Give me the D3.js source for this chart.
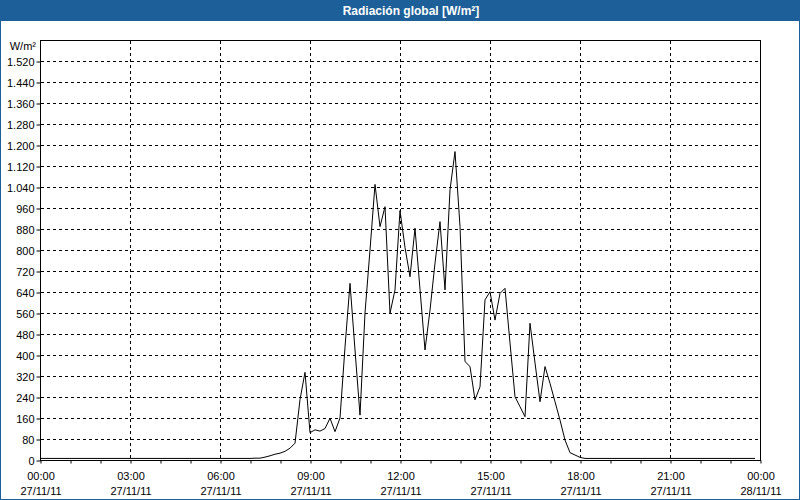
<!DOCTYPE html>
<html>
<head>
<meta charset="utf-8">
<script src="https://cdn.jsdelivr.net/npm/d3@7"></script>
<style>
  body { margin: 0; background: #fff; }
  svg { display: block; font-family: "Liberation Sans", Arial, sans-serif; }
  .axis text { font-size: 11px; fill: #000; }
  .axis path, .axis line { stroke: #000; }
  .grid line { stroke: #000; stroke-dasharray: 3,3; shape-rendering: crispEdges; }
</style>
</head>
<body>
<svg id="chart" width="800" height="500"></svg>
<script>
(function() {
    // 10-minute readings, 27/11/11
    const times = ["00:00", "07:00", "07:10", "07:20", "07:30", "07:40", "07:50",
        "08:00", "08:10", "08:20", "08:30", "08:40", "08:50",
        "09:00", "09:10", "09:20", "09:30", "09:40", "09:50",
        "10:00", "10:10", "10:20", "10:30", "10:40", "10:50",
        "11:00", "11:10", "11:20", "11:30", "11:40", "11:50",
        "12:00", "12:10", "12:20", "12:30", "12:40", "12:50",
        "13:00", "13:10", "13:20", "13:30", "13:40", "13:50",
        "14:00", "14:10", "14:20", "14:30", "14:40", "14:50",
        "15:00", "15:10", "15:20", "15:30", "15:40", "15:50",
        "16:00", "16:10", "16:20", "16:30", "16:40", "16:50",
        "17:00", "17:10", "17:20", "17:30", "17:40", "17:50",
        "18:00", "18:10", "23:50"];
    const values = [6, 6, 7, 7, 11, 16, 22,
        26, 33, 45, 64, 230, 334,
        104, 115, 110, 120, 159, 108,
        160, 430, 673, 419, 171, 560,
        800, 1050, 889, 965, 559, 648,
        950, 810, 698, 883, 650, 419,
        571, 750, 908, 648, 1029, 1175,
        890, 375, 356, 229, 279, 610,
        641, 533, 635, 654, 446, 241,
        203, 165, 521, 370, 222, 356,
        292, 222, 152, 76, 28, 19,
        10, 6, 6];
    const yTicks = d3.range(0, 1521, 80);
    const title = "Radiación global [W/m²]";
    const unit = "W/m²";

    const width = 800, height = 500;
    const left = 40, right = 760, top = 40, bottom = 460;
    const blue = "#1d5f98";

    const parse = d3.timeParse("%Y-%m-%d %H:%M");
    const data = times.map((t, i) => ({ t: parse("2011-11-27 " + t), v: values[i] }));

    const svg = d3.select("#chart");

    // title bar and outer frame
    svg.append("rect").attr("x", 0).attr("y", 0).attr("width", width).attr("height", 21).attr("fill", blue);
    svg.append("rect").attr("x", 0.5).attr("y", 0.5).attr("width", width - 1).attr("height", height - 1)
        .attr("fill", "none").attr("stroke", blue);
    svg.append("text").attr("x", 411).attr("y", 15).attr("text-anchor", "middle")
        .attr("fill", "#fff").attr("font-weight", "bold").attr("font-size", "12px").text(title);

    const x = d3.scaleTime()
        .domain([parse("2011-11-27 00:00"), parse("2011-11-28 00:00")])
        .range([left, right]);
    const y = d3.scaleLinear().domain([0, 1600]).range([bottom, top]);

    const es = d3.formatLocale({ decimal: ",", thousands: ".", grouping: [3], currency: ["", ""] });
    const fmt = es.format(",d");

    // grid
    svg.append("g").attr("class", "grid")
        .selectAll("line").data(yTicks.filter(d => d > 0)).enter().append("line")
        .attr("x1", left + 1).attr("x2", right)
        .attr("y1", d => Math.round(y(d)) + 0.5).attr("y2", d => Math.round(y(d)) + 0.5);
    const hours3 = d3.timeHour.every(3).range(x.domain()[0], x.domain()[1]).slice(1);
    svg.append("g").attr("class", "grid")
        .selectAll("line").data(hours3).enter().append("line")
        .attr("x1", d => Math.round(x(d)) + 0.5).attr("x2", d => Math.round(x(d)) + 0.5)
        .attr("y1", top + 1).attr("y2", bottom);

    // frame
    svg.append("rect").attr("x", left + 0.5).attr("y", top + 0.5)
        .attr("width", right - left).attr("height", bottom - top)
        .attr("fill", "none").attr("stroke", "#000").attr("shape-rendering", "crispEdges");

    // y axis
    const yAxis = svg.append("g").attr("class", "axis")
        .attr("transform", `translate(${left + 0.5},0.5)`)
        .call(d3.axisLeft(y).tickValues(yTicks).tickFormat(fmt).tickSize(4).tickPadding(2));
    yAxis.select(".domain").remove();
    yAxis.selectAll("text").attr("dy", "0.35em");

    svg.append("text").attr("class", "axis").attr("x", 36).attr("y", 50)
        .attr("text-anchor", "end").attr("font-size", "11px").text(unit);

    // x axis: minor hourly ticks, labelled every 3 hours
    const xMinor = svg.append("g").attr("class", "axis")
        .attr("transform", `translate(0.5,${bottom + 0.5})`)
        .call(d3.axisBottom(x).ticks(d3.timeHour.every(1)).tickSize(3).tickFormat(""));
    xMinor.select(".domain").remove();

    const hourFmt = d3.timeFormat("%H:%M"), dateFmt = d3.timeFormat("%d/%m/%y");
    const xAxis = svg.append("g").attr("class", "axis")
        .attr("transform", `translate(0.5,${bottom + 0.5})`)
        .call(d3.axisBottom(x).ticks(d3.timeHour.every(3)).tickSize(0).tickFormat(""));
    xAxis.select(".domain").remove();
    xAxis.selectAll(".tick").each(function(d) {
        const t = d3.select(this).append("text").attr("fill", "#000").attr("text-anchor", "middle");
        t.append("tspan").attr("x", 0).attr("y", 19).text(hourFmt(d));
        t.append("tspan").attr("x", 0).attr("y", 34).text(dateFmt(d));
    });

    // data line
    const line = d3.line().x(d => x(d.t)).y(d => y(d.v));
    svg.append("path").datum(data)
        .attr("fill", "none").attr("stroke", "#000").attr("stroke-width", 1)
        .attr("d", line);
})();
</script>
</body>
</html>
